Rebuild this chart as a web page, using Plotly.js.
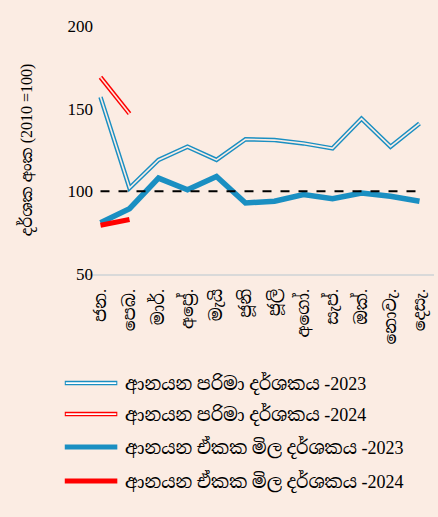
<!DOCTYPE html>
<html>
<head>
<meta charset="utf-8">
<script src="https://cdn.plot.ly/plotly-3.0.1.min.js"></script>
<style>
html,body{margin:0;padding:0;background:#ffffff;}
#chart{width:438px;height:517px;}
</style>
</head>
<body>
<div id="chart"></div>
<script>
const months = ["ජන.", "පෙබ.", "මාර්.", "අප්‍රේ.", "මැයි", "ජූනි", "ජූලි", "අගෝ.", "සැප්.", "ඔක්.", "නොවැ.", "දෙසැ."];
const volume2023 = [157, 102, 119, 127, 119, 131.5, 131, 129, 126, 144, 127, 141];
const volume2024 = [169, 147];
const unitValue2023 = [81, 89.5, 108, 101, 109, 93, 94, 98, 95.5, 99, 97, 94];
const unitValue2024 = [79.5, 83];
const baseline = [100, 100];
const seriesNames = ["ආනයන පරිමා දර්ශකය -2023", "ආනයන පරිමා දර්ශකය -2024", "ආනයන ඒකක මිල දර්ශකය -2023", "ආනයන ඒකක මිල දර්ශකය -2024"];

const BG = "#FBECE3";
const BLUE = "#1A8FC2";
const RED = "#FF0000";
const serif = "'Liberation Serif', 'Times New Roman', serif";
const mixed = "'Liberation Serif', 'Noto Serif Sinhala', 'Noto Sans Sinhala', 'Iskoola Pota', serif";

const traces = [
  {x: months, y: unitValue2023, mode: "lines", line: {color: BLUE, width: 5.5}, showlegend: false},
  {x: [months[0], months[11]], y: baseline, mode: "lines", line: {color: "#000", width: 2, dash: "dash"}, hoverinfo: "skip", showlegend: false},
  {x: months.slice(0, unitValue2024.length), y: unitValue2024, mode: "lines", line: {color: RED, width: 5}, showlegend: false},
  {x: months, y: volume2023, mode: "lines", line: {color: BLUE, width: 4.5}, showlegend: false},
  {x: months, y: volume2023, mode: "lines", line: {color: BG, width: 1.6}, showlegend: false, hoverinfo: "skip"},
  {x: months.slice(0, volume2024.length), y: volume2024, mode: "lines", line: {color: RED, width: 4.5}, showlegend: false},
  {x: months.slice(0, volume2024.length), y: volume2024, mode: "lines", line: {color: BG, width: 1.6}, showlegend: false, hoverinfo: "skip"}
];

// manual legend (double-line symbols)
const legendY = [-0.44, -0.565, -0.698, -0.835];
const legendColors = [BLUE, RED, BLUE, RED];
const legendDouble = [true, true, false, false];
const shapes = [];
const annotations = [];
legendY.forEach((yy, i) => {
  shapes.push({type: "line", xref: "paper", yref: "paper", x0: -0.061, x1: 0.09, y0: yy, y1: yy, line: {color: legendColors[i], width: legendDouble[i] ? 4.5 : 5}, layer: "above"});
  if (legendDouble[i]) shapes.push({type: "line", xref: "paper", yref: "paper", x0: -0.058, x1: 0.087, y0: yy, y1: yy, line: {color: "#ffffff", width: 1.6}, layer: "above"});
  annotations.push({xref: "paper", yref: "paper", x: 0.106, y: yy, xanchor: "left", yanchor: "middle", showarrow: false, text: seriesNames[i], font: {family: mixed, size: 18, color: "#000"}});
});

const layout = {
  width: 438, height: 517,
  paper_bgcolor: BG, plot_bgcolor: BG,
  margin: {l: 86, r: 4, t: 26, b: 243},
  showlegend: false,
  xaxis: {
    type: "category", categoryorder: "array", categoryarray: months, range: [-0.5, 11.5], tickangle: -90,
    showline: true, linecolor: "#D9D9D9", linewidth: 2,
    showgrid: false, ticks: "", zeroline: false, ticklabelstandoff: 6,
    tickfont: {family: mixed, size: 17, color: "#000"}, automargin: false
  },
  yaxis: {
    range: [50, 200], tickvals: [50, 100, 150, 200], ticks: "", showgrid: false, zeroline: false, showline: false,
    ticklabelstandoff: -8,
    tickfont: {family: serif, size: 17, color: "#000"},
    title: {text: "දර්ශක අංක (2010 =100)", font: {family: mixed, size: 16, color: "#000"}, standoff: 30},
    automargin: false
  },
  shapes: shapes,
  annotations: annotations
};

Plotly.newPlot("chart", traces, layout, {displayModeBar: false, staticPlot: true});
</script>
</body>
</html>
